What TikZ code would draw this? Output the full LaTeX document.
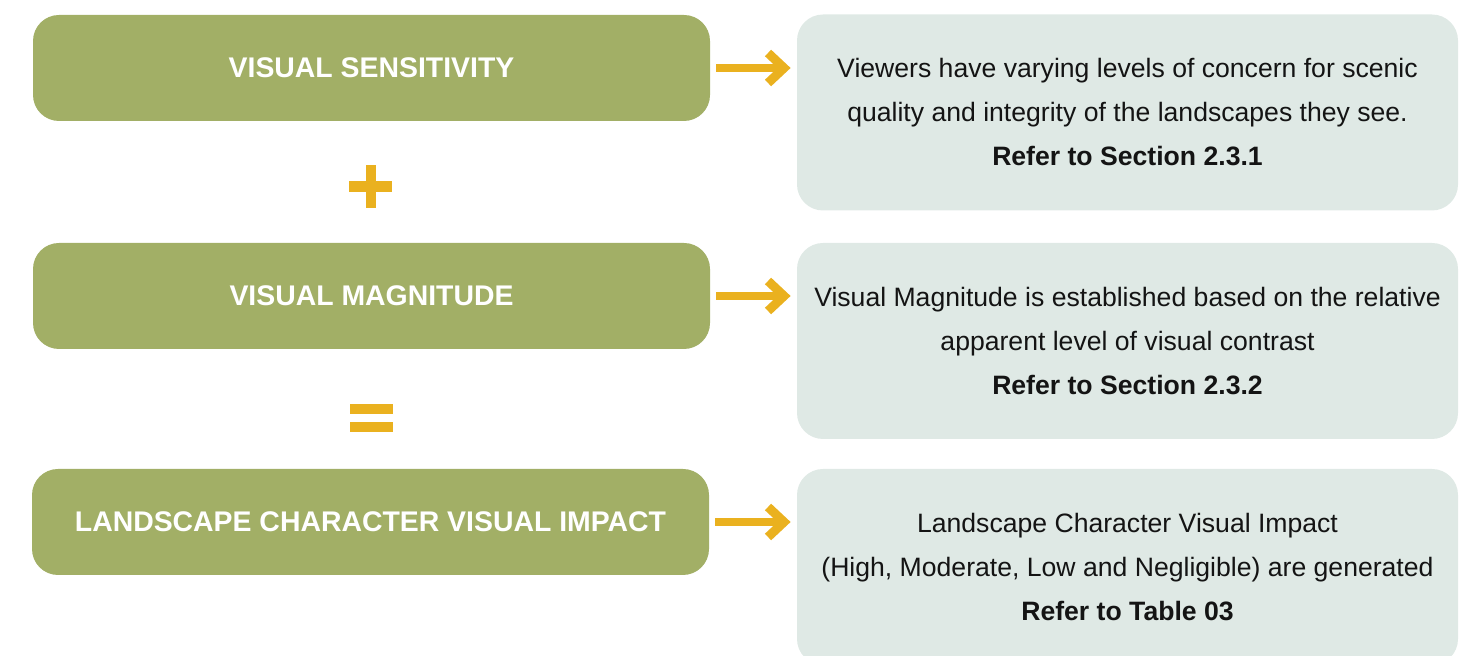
\documentclass[tikz,border=0pt]{standalone}
\usepackage{fontspec}
\setmainfont{Liberation Sans}
\usetikzlibrary{arrows.meta}

\definecolor{impactgreen}{RGB}{162,175,102}
\definecolor{impactpale}{RGB}{223,233,229}
\definecolor{impactgold}{RGB}{234,177,31}
\definecolor{impacttext}{RGB}{20,20,20}

\begin{document}
\begin{tikzpicture}[x=0.5pt,y=0.5pt,
    factor/.style={fill=impactgreen,rounded corners=13pt,minimum width=338.5pt,
      minimum height=53pt,text=white,font=\fontsize{14.2}{17}\selectfont\bfseries},
    note/.style={fill=impactpale,rounded corners=13pt,minimum width=330.5pt,
      minimum height=98pt,text=impacttext,align=center,
      font=\fontsize{13.3}{22}\selectfont},
    link/.style={impactgold,line width=4pt,shorten <=3pt,shorten >=3pt,
      -{Straight Barb[length=8pt,width=15pt,line width=4.5pt]}}]
    \useasboundingbox (0,0) rectangle (1477,656);
    % left column: the three factors
    \node[factor] (sens) at (371.5,588) {VISUAL SENSITIVITY};
    \node[factor] (magn) at (371.5,360) {VISUAL MAGNITUDE};
    \node[factor] (lcvi) at (370.5,134) {LANDSCAPE CHARACTER VISUAL IMPACT};
    % right column: explanations
    \node[note] (sensnote) at (1127.5,543.5)
      {Viewers have varying levels of concern for scenic\\
       quality and integrity of the landscapes they see.\\
       \textbf{Refer to Section 2.3.1}};
    \node[note] (magnnote) at (1127.5,315)
      {Visual Magnitude is established based on the relative\\
       apparent level of visual contrast\\
       \textbf{Refer to Section 2.3.2}};
    \node[note] (lcvinote) at (1127.5,89)
      {Landscape Character Visual Impact\\
       (High, Moderate, Low and Negligible) are generated\\
       \textbf{Refer to Table 03}};
    \foreach \a/\b in {sens/sensnote,magn/magnnote,lcvi/lcvinote}
      \draw[link] (\a.east) -- (\a.east -| \b.west);
    % plus and equals signs
    \fill[impactgold] (349,464) rectangle (392,475);
    \fill[impactgold] (366,448) rectangle (376,491);
    \fill[impactgold] (350,242) rectangle (393,252);
    \fill[impactgold] (350,224) rectangle (393,234);
  \end{tikzpicture}
\end{document}
